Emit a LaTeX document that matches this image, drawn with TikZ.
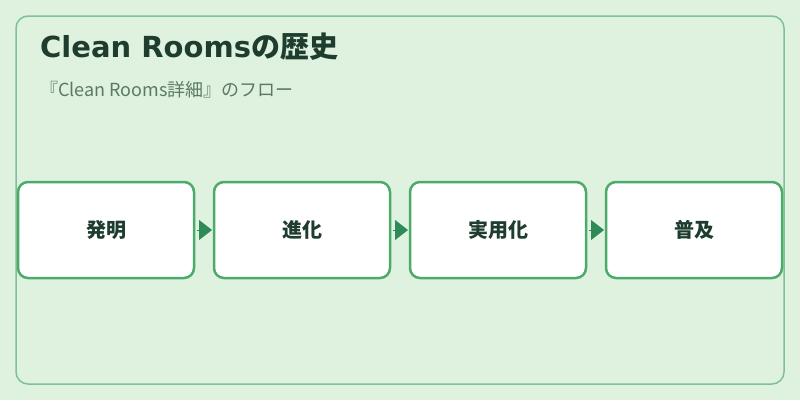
\documentclass[tikz,border=0pt]{standalone}
\usepackage{fontspec}
\setmainfont{Noto Sans CJK JP}
\newfontfamily\latinfont{DejaVu Sans}
\usetikzlibrary{positioning,arrows.meta}
\definecolor{bgfill}{HTML}{DFF2DF}
\definecolor{framegreen}{HTML}{80C096}
\definecolor{boxgreen}{HTML}{4CAA6A}
\definecolor{tipgreen}{HTML}{2E8B57}
\definecolor{titlegreen}{HTML}{1E3D2E}
\definecolor{subgreen}{HTML}{5A7A66}

\begin{document}
\begin{tikzpicture}[x=1pt,y=-1pt,
	stagebox/.style={draw=boxgreen,fill=white,line width=2.5pt,rounded corners=10pt,
		minimum width=176pt,minimum height=96pt,outer sep=0pt,inner sep=0pt,
		text=titlegreen,font=\fontsize{20pt}{24pt}\selectfont\bfseries},
	flowarrow/.style={tipgreen,line width=1pt,shorten <=3pt,shorten >=2pt,
		-{Triangle[length=13pt,width=20pt]}},
	node distance=20pt]
	\fill[bgfill] (0,0) rectangle (800,400);
	\useasboundingbox (0,0) rectangle (800,400);
	\draw[framegreen,line width=1.5pt,rounded corners=12pt] (16,16) rectangle (784,384);
	\node[anchor=base west,text=titlegreen,inner sep=0pt,
		font=\fontsize{29pt}{33pt}\selectfont\bfseries] (title) at (40,57)
		{{\latinfont Clean Rooms}の歴史};
	\node[anchor=base west,text=subgreen,inner sep=0pt,
		font=\fontsize{18pt}{22pt}\selectfont] (subtitle) at (40,96)
		{『Clean Rooms詳細』のフロー};

	\node[stagebox] (invent) at (106,230) {発明};
	\node[stagebox,right=of invent] (evolve) {進化};
	\node[stagebox,right=of evolve] (practical) {実用化};
	\node[stagebox,right=of practical] (spread) {普及};

	\draw[flowarrow] (invent.east) -- (evolve.west);
	\draw[flowarrow] (evolve.east) -- (practical.west);
	\draw[flowarrow] (practical.east) -- (spread.west);
\end{tikzpicture}
\end{document}
